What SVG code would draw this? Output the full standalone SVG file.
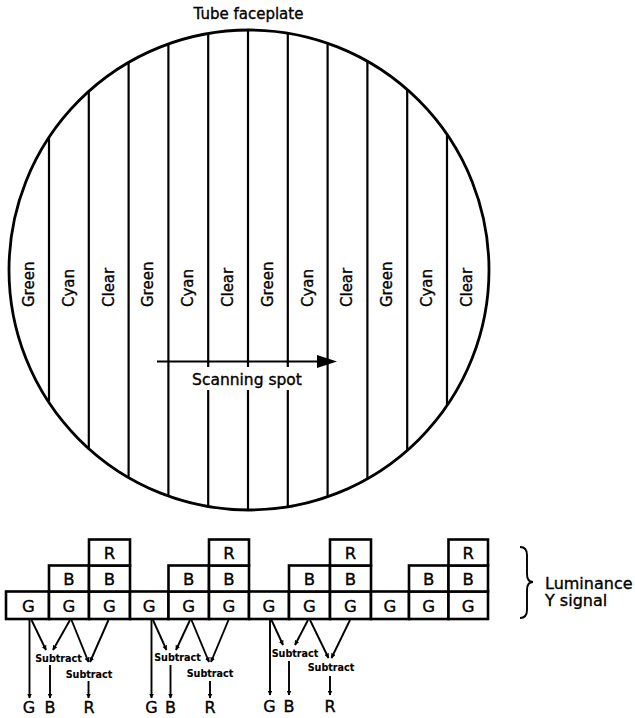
<svg xmlns="http://www.w3.org/2000/svg" width="635" height="718" viewBox="0 0 635 718">
<style>
  .ln { stroke:#000; stroke-width:2.2; fill:none; }
  .face { stroke:#000; stroke-width:2.8; fill:none; }
  .box { stroke:#000; stroke-width:2.6; fill:#fff; }
  .t { font-family:"DejaVu Sans", "Liberation Sans", sans-serif; fill:#000; stroke:#000; stroke-width:0.35; }
  .stripe { font-size:15px; }
  .title { font-size:15px; text-anchor:middle; }
  .cell { font-size:16.5px; text-anchor:middle; }
  .sub { font-size:9.6px; font-weight:bold; text-anchor:middle; stroke-width:0.1; }
  .out { font-size:16px; text-anchor:middle; }
  .lum { font-size:16px; }
  .cn { stroke:#000; stroke-width:1.9; fill:none; }
  .ca { stroke:#000; stroke-width:1.9; fill:none; marker-end:url(#ah); }
</style>
<defs>
  <clipPath id="faceclip"><circle cx="249" cy="270" r="240"/></clipPath>
  <marker id="ah" viewBox="0 0 10 10" refX="9" refY="5" markerWidth="5" markerHeight="5" markerUnits="userSpaceOnUse" orient="auto">
    <path d="M0,0 L10,5 L0,10 z" fill="#000"/>
  </marker>
</defs>
<rect width="635" height="718" fill="#fff"/>

<g id="title"><text class="t title" x="248.5" y="18.5">Tube faceplate</text></g>

<g id="faceplate">
  <g clip-path="url(#faceclip)">
    <line class="ln" x1="49" y1="20" x2="49" y2="520"/>
    <line class="ln" x1="88.8" y1="20" x2="88.8" y2="520"/>
    <line class="ln" x1="128.6" y1="20" x2="128.6" y2="520"/>
    <line class="ln" x1="168.4" y1="20" x2="168.4" y2="520"/>
    <line class="ln" x1="208.2" y1="20" x2="208.2" y2="367"/>
    <line class="ln" x1="208.2" y1="390" x2="208.2" y2="520"/>
    <line class="ln" x1="248" y1="20" x2="248" y2="367"/>
    <line class="ln" x1="248" y1="390" x2="248" y2="520"/>
    <line class="ln" x1="287.8" y1="20" x2="287.8" y2="367"/>
    <line class="ln" x1="287.8" y1="390" x2="287.8" y2="520"/>
    <line class="ln" x1="327.6" y1="20" x2="327.6" y2="520"/>
    <line class="ln" x1="367.4" y1="20" x2="367.4" y2="520"/>
    <line class="ln" x1="407.2" y1="20" x2="407.2" y2="520"/>
    <line class="ln" x1="447" y1="20" x2="447" y2="520"/>
  </g>
  <circle class="face" cx="249" cy="270" r="240"/>
  <g class="t stripe">
    <text transform="rotate(-90 34 307)" x="34" y="307">Green</text>
    <text transform="rotate(-90 73.8 307)" x="73.8" y="307">Cyan</text>
    <text transform="rotate(-90 113.6 307)" x="113.6" y="307">Clear</text>
    <text transform="rotate(-90 153.4 307)" x="153.4" y="307">Green</text>
    <text transform="rotate(-90 193.2 307)" x="193.2" y="307">Cyan</text>
    <text transform="rotate(-90 233 307)" x="233" y="307">Clear</text>
    <text transform="rotate(-90 272.8 307)" x="272.8" y="307">Green</text>
    <text transform="rotate(-90 312.6 307)" x="312.6" y="307">Cyan</text>
    <text transform="rotate(-90 352.4 307)" x="352.4" y="307">Clear</text>
    <text transform="rotate(-90 392.2 307)" x="392.2" y="307">Green</text>
    <text transform="rotate(-90 432 307)" x="432" y="307">Cyan</text>
    <text transform="rotate(-90 471.8 307)" x="471.8" y="307">Clear</text>
  </g>
</g>

<g id="scan">
  <line class="ln" x1="157" y1="361.5" x2="320" y2="361.5"/>
  <path d="M317,355 L337,361.5 L317,368 z" fill="#000"/>
  <text class="t title" x="247" y="385" style="font-size:15.5px">Scanning spot</text>
</g>

<g id="signal-boxes">
  <g id="g-row">
    <rect class="box" x="6" y="591.5" width="43" height="27.5"/>
    <rect class="box" x="49" y="591.5" width="40" height="27.5"/>
    <rect class="box" x="89" y="591.5" width="41" height="27.5"/>
    <rect class="box" x="130" y="591.5" width="38.5" height="27.5"/>
    <rect class="box" x="168.5" y="591.5" width="40.5" height="27.5"/>
    <rect class="box" x="209" y="591.5" width="40" height="27.5"/>
    <rect class="box" x="249" y="591.5" width="40" height="27.5"/>
    <rect class="box" x="289" y="591.5" width="41" height="27.5"/>
    <rect class="box" x="330" y="591.5" width="41" height="27.5"/>
    <rect class="box" x="371" y="591.5" width="38" height="27.5"/>
    <rect class="box" x="409" y="591.5" width="39.5" height="27.5"/>
    <rect class="box" x="448.5" y="591.5" width="39.5" height="27.5"/>
  </g>
  <g id="b-row">
    <rect class="box" x="49" y="565.5" width="40" height="26"/>
    <rect class="box" x="89" y="565.5" width="41" height="26"/>
    <rect class="box" x="168.5" y="565.5" width="40.5" height="26"/>
    <rect class="box" x="209" y="565.5" width="40" height="26"/>
    <rect class="box" x="289" y="565.5" width="41" height="26"/>
    <rect class="box" x="330" y="565.5" width="41" height="26"/>
    <rect class="box" x="409" y="565.5" width="39.5" height="26"/>
    <rect class="box" x="448.5" y="565.5" width="39.5" height="26"/>
  </g>
  <g id="r-row">
    <rect class="box" x="89" y="539.5" width="41" height="26"/>
    <rect class="box" x="209" y="539.5" width="40" height="26"/>
    <rect class="box" x="330" y="539.5" width="41" height="26"/>
    <rect class="box" x="448.5" y="539.5" width="39.5" height="26"/>
  </g>
  <g class="t cell">
    <text x="28.5" y="612">G</text>
    <text x="69" y="612">G</text>
    <text x="109.5" y="612">G</text>
    <text x="149.2" y="612">G</text>
    <text x="188.7" y="612">G</text>
    <text x="229" y="612">G</text>
    <text x="269" y="612">G</text>
    <text x="309.5" y="612">G</text>
    <text x="350.5" y="612">G</text>
    <text x="390" y="612">G</text>
    <text x="428.7" y="612">G</text>
    <text x="468.2" y="612">G</text>
    <text x="69" y="584.5">B</text>
    <text x="109.5" y="584.5">B</text>
    <text x="188.7" y="584.5">B</text>
    <text x="229" y="584.5">B</text>
    <text x="309.5" y="584.5">B</text>
    <text x="350.5" y="584.5">B</text>
    <text x="428.7" y="584.5">B</text>
    <text x="468.2" y="584.5">B</text>
    <text x="109.5" y="558.5">R</text>
    <text x="229" y="558.5">R</text>
    <text x="350.5" y="558.5">R</text>
    <text x="468.2" y="558.5">R</text>
  </g>
</g>

<g id="luminance">
  <path class="cn" d="M520,547 Q527,547 527,555 L527,574 Q527,582 533,582 Q527,582 527,590 L527,610 Q527,618 520,618"/>
  <text class="t lum" x="545" y="588.5">Luminance</text>
  <text class="t lum" x="545" y="606">Y signal</text>
</g>

<g id="connectors">
  <line class="ca" x1="29.5" y1="620" x2="29.5" y2="698"/>
  <line class="ca" x1="31.5" y1="620" x2="46" y2="650"/>
  <line class="ca" x1="70" y1="620" x2="53" y2="650"/>
  <line class="ca" x1="71.5" y1="620" x2="88.5" y2="662"/>
  <line class="ca" x1="108.5" y1="620" x2="90" y2="662"/>
  <line class="ca" x1="50" y1="665" x2="50" y2="698"/>
  <line class="ca" x1="88.5" y1="681" x2="88.5" y2="698"/>

  <line class="ca" x1="151.5" y1="620" x2="151.5" y2="698"/>
  <line class="ca" x1="153" y1="620" x2="166.5" y2="650"/>
  <line class="ca" x1="190" y1="620" x2="176" y2="650"/>
  <line class="ca" x1="191.5" y1="620" x2="209" y2="662"/>
  <line class="ca" x1="228.5" y1="620" x2="211" y2="662"/>
  <line class="ca" x1="170.5" y1="665" x2="170.5" y2="698"/>
  <line class="ca" x1="210" y1="681" x2="210" y2="698"/>

  <line class="ca" x1="270" y1="620" x2="270" y2="695"/>
  <line class="ca" x1="271.5" y1="620" x2="283" y2="645"/>
  <line class="ca" x1="308" y1="620" x2="295" y2="645"/>
  <line class="ca" x1="310" y1="620" x2="328.5" y2="658"/>
  <line class="ca" x1="350" y1="620" x2="331.5" y2="658"/>
  <line class="ca" x1="289" y1="661" x2="289" y2="695"/>
  <line class="ca" x1="330" y1="676" x2="330" y2="695"/>
</g>

<g id="decoder-1">
  <text class="t sub" x="58.5" y="661.5">Subtract</text>
  <text class="t sub" x="89" y="677.5">Subtract</text>
  <text class="t out" x="29" y="713">G</text>
  <text class="t out" x="50" y="713">B</text>
  <text class="t out" x="89" y="713">R</text>
</g>
<g id="decoder-2">
  <text class="t sub" x="177.5" y="661">Subtract</text>
  <text class="t sub" x="210" y="677">Subtract</text>
  <text class="t out" x="151.5" y="713">G</text>
  <text class="t out" x="170.5" y="713">B</text>
  <text class="t out" x="210" y="713">R</text>
</g>
<g id="decoder-3">
  <text class="t sub" x="295" y="657">Subtract</text>
  <text class="t sub" x="331" y="670.5">Subtract</text>
  <text class="t out" x="269.5" y="711.5">G</text>
  <text class="t out" x="289" y="711.5">B</text>
  <text class="t out" x="330" y="711.5">R</text>
</g>
</svg>
